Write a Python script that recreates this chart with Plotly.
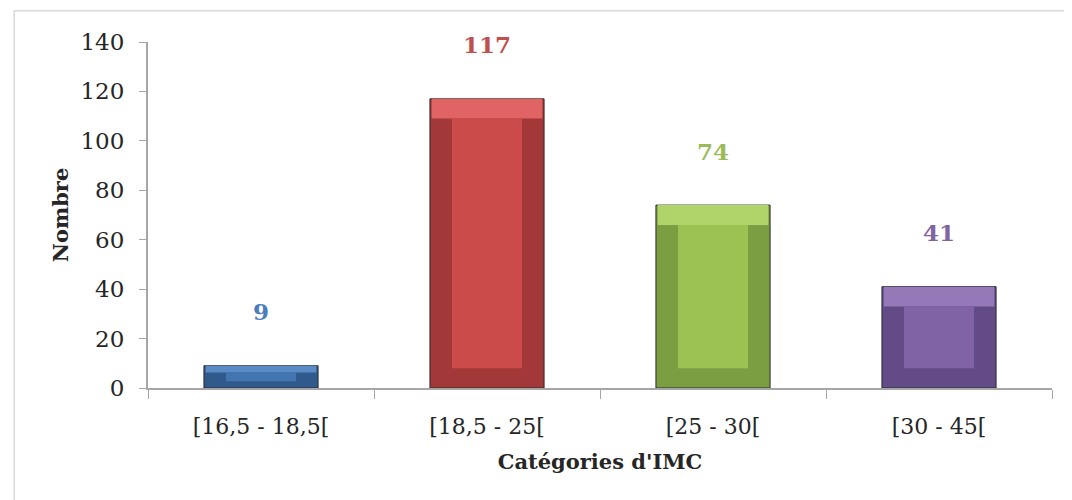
import plotly.graph_objects as go

# data
categories = ["[16,5 - 18,5[", "[18,5 - 25[", "[25 - 30[", "[30 - 45["]
counts = [9, 117, 74, 41]
y_ticks = [0, 20, 40, 60, 80, 100, 120, 140]

face_colors = ["#4375b0", "#cb4a4a", "#9dc254", "#7f63a5"]
edge_colors = ["#30598c", "#a23837", "#7c9e43", "#634b87"]
top_colors = ["#5a8bc4", "#e06464", "#b0d46a", "#9478b8"]
label_colors = ["#4a7ebb", "#c0504d", "#9bbb59", "#8064a2"]

font_family = "DejaVu Serif"
axis_grey = "#a6a6a6"

fig = go.Figure()

bevel = [min(8, v * 0.3) for v in counts]

# outer bar = darker bevel frame
fig.add_trace(go.Bar(
    x=categories, y=counts, width=0.505,
    marker=dict(color=edge_colors, line=dict(color="#2a2a2a", width=1)),
    hoverinfo="skip",
))

# lighter top band of the bevel
fig.add_trace(go.Bar(
    x=categories, y=bevel,
    base=[v - b for v, b in zip(counts, bevel)],
    width=0.49,
    marker=dict(color=top_colors, line=dict(width=0)),
    hoverinfo="skip",
))

# inner face of the bevel
fig.add_trace(go.Bar(
    x=categories,
    y=[v - 2 * b for v, b in zip(counts, bevel)],
    base=bevel,
    width=0.31,
    marker=dict(color=face_colors, line=dict(width=0)),
))

# value labels above bars
for cat, v, c in zip(categories, counts, label_colors):
    fig.add_annotation(x=cat, y=v, text=f"<b>{v}</b>", showarrow=False,
                       yshift=54, yanchor="middle",
                       font=dict(family=font_family, size=23, color=c))

fig.update_layout(
    barmode="overlay",
    showlegend=False,
    width=1072, height=500,
    paper_bgcolor="white", plot_bgcolor="white",
    margin=dict(l=140, r=28, t=34, b=120, autoexpand=False),
    font=dict(family=font_family, size=23, color="#262626"),
    xaxis=dict(
        tickson="boundaries", ticks="outside", ticklen=9, tickcolor=axis_grey,
        showline=True, linecolor=axis_grey, linewidth=2,
        showgrid=False, tickfont=dict(size=22), ticklabelstandoff=18,
        title=dict(text="<b>Catégories d'IMC</b>", font=dict(size=21), standoff=16),
    ),
    yaxis=dict(
        range=[0, 140], tickvals=y_ticks, ticks="outside", ticklen=7,
        tickcolor=axis_grey, showline=True, linecolor=axis_grey, linewidth=2,
        showgrid=False, zeroline=False, tickfont=dict(size=23),
        ticklabelstandoff=10,
        title=dict(text="<b>Nombre</b>", font=dict(size=21), standoff=6),
    ),
    shapes=[dict(type="rect", xref="paper", yref="paper",
                 x0=-0.148, x1=1.1, y0=-0.5, y1=1.09,
                 line=dict(color="#d9d9d9", width=1.5), layer="below")],
)

fig.write_html("out.html")
